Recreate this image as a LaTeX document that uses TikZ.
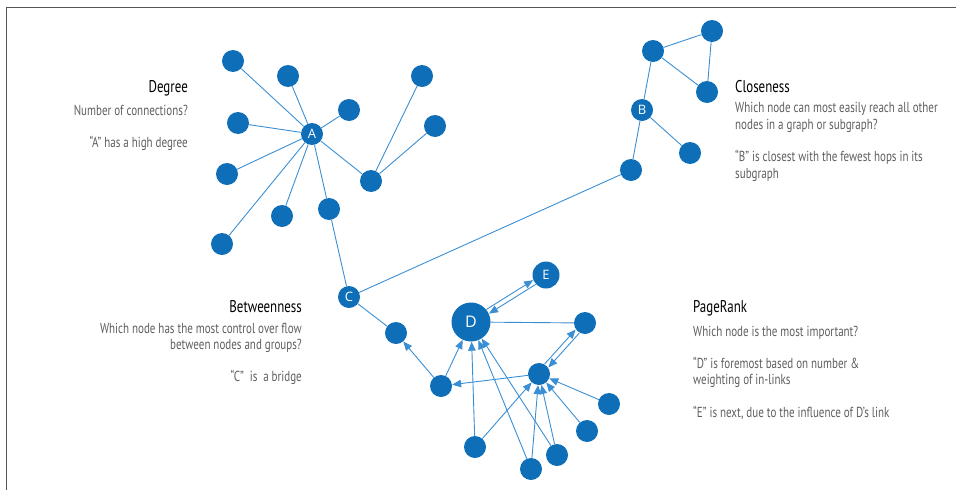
\documentclass[tikz,border=0pt]{standalone}
\usepackage{fontspec}
\setmainfont{PT Sans}[FakeStretch=0.76]
\newfontfamily\letterfont{Open Sans}
\usetikzlibrary{arrows.meta}

\definecolor{nodeblue}{HTML}{0F6EB8}
\definecolor{edgeblue}{HTML}{3A8FD4}
\definecolor{textgray}{HTML}{5E5E5E}
\definecolor{framegray}{HTML}{555555}

\tikzset{
  dot/.style={circle, fill=nodeblue, minimum size=22pt, inner sep=0pt,
    text=white, font=\letterfont\fontsize{13}{13}\selectfont},
  link/.style={edgeblue, line width=0.9pt},
  arc/.style={link, -{Triangle[length=9pt,width=7.5pt]}},
  title/.style={inner sep=0pt, text=black, font=\fontsize{17}{20}\selectfont},
  desc/.style={inner sep=0pt, text=textgray, font=\fontsize{14.5}{16.3}\selectfont}
}

\begin{document}
\begin{tikzpicture}[x=1pt, y=-1pt]
    \useasboundingbox (0,0) rectangle (956,490);
    % frame
    \draw[framegray, line width=1pt] (6,490) -- (6,7) -- (956,7);

    % Degree
    \node[dot] (A) at (312,134) {A};
    \foreach \n/\x/\y in {a1/233/61, a2/288/76, a3/238/123, a4/349/110,
        a5/227/174, a6/282/216, a7/329/209, a8/222/244, a9/371/181,
        a10/422/76, a11/435/126}
        \node[dot] (\n) at (\x,\y) {};
    \foreach \t in {a1,a2,a3,a4,a5,a6,a7,a8,a9}
        \draw[link] (A) -- (\t);
    \draw[link] (a9) -- (a10);
    \draw[link] (a9) -- (a11);
    \node[title, anchor=base east] (degT) at (188,92) {Degree};
    \node[desc, anchor=north east, align=right] (degD) at (188,104.5)
        {Number of connections?\\[16.3pt]“A” has a high degree};

    % Closeness
    \node[dot] (B) at (642,110) {B};
    \foreach \n/\x/\y in {b1/653/51, b2/712/31, b3/707/92, b4/690/153, b5/631/170}
        \node[dot] (\n) at (\x,\y) {};
    \draw[link] (b1) -- (b2);
    \draw[link] (b2) -- (b3);
    \draw[link] (b1) -- (b3);
    \draw[link] (b1) -- (B);
    \draw[link] (B) -- (b4);
    \draw[link] (B) -- (b5);
    \node[title, anchor=base west] (cloT) at (735,92) {Closeness};
    \node[desc, anchor=north west, align=left] (cloD) at (735,102.5)
        {Which node can most easily reach all other\\nodes in a graph or subgraph?\\[16.3pt]“B” is closest with the fewest hops in its\\subgraph};

    % Betweenness
    \node[dot] (C) at (349,297) {C};
    \node[dot] (c1) at (396,333) {};
    \node[dot] (c2) at (441,386) {};
    \draw[link] (a7) -- (C);
    \draw[link] (b5) -- (C);
    \draw[link] (C) -- (c1);
    \node[title, anchor=base east] (betT) at (302,312) {Betweenness};
    \node[desc, anchor=north east, align=right] (betD) at (302,322.5)
        {Which node has the most control over flow\\between nodes and groups?\\[16.3pt]“C”~ is~ a bridge};

    % PageRank
    \node[dot, minimum size=39pt, font=\letterfont\fontsize{16}{16}\selectfont] (D) at (471,322) {D};
    \node[dot, minimum size=27pt] (E) at (546,275) {E};
    \foreach \n/\x/\y in {d1/585/323, d2/539/374, d3/609/404, d4/587/431,
        d5/557/455, d6/531/469, d7/475/447}
        \node[dot] (\n) at (\x,\y) {};
    \draw[arc, transform canvas={shift={(-1.3pt,2.1pt)}}] (D) -- (E);
    \draw[arc, transform canvas={shift={(1.3pt,-2.1pt)}}] (E) -- (D);
    \draw[arc, transform canvas={shift={(-1.9pt,1.7pt)}}] (d2) -- (d1);
    \draw[arc, transform canvas={shift={(1.9pt,-1.7pt)}}] (d1) -- (d2);
    \draw[link] (D) -- (d1);
    \draw[arc] (c2) -- (c1);
    \draw[arc] (d2) -- (c2);
    \foreach \s in {c2,d7,d6,d5}
        \draw[arc] (\s) -- (D);
    \foreach \s in {d7,d6,d5,d4,d3}
        \draw[arc] (\s) -- (d2);
    \node[title, anchor=base west] (prT) at (693,312) {PageRank};
    \node[desc, anchor=north west, align=left] (prD) at (693,325.5)
        {Which node is the most important?\\[16.3pt]“D” is foremost based on number \&\\weighting of in-links\\[16.3pt]“E” is next, due to the influence of D’s link};
\end{tikzpicture}
\end{document}
